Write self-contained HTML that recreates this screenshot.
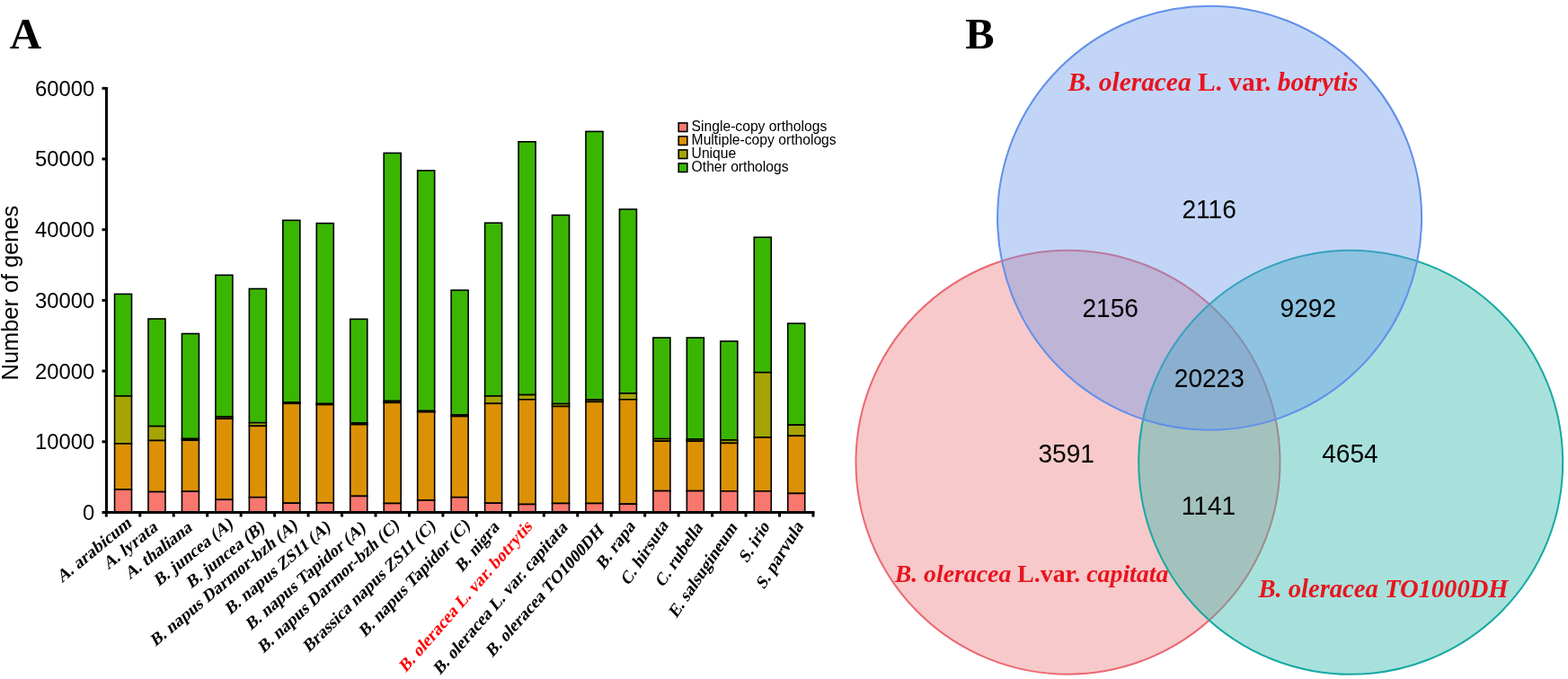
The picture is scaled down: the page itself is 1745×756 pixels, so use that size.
<!DOCTYPE html>
<html><head><meta charset="utf-8"><title>Figure</title>
<style>
html,body{margin:0;padding:0;background:#fff;}
body{width:1745px;height:756px;overflow:hidden;}
svg{display:block;}
</style></head>
<body>
<svg width="1745" height="756" viewBox="0 0 1745 756">
<rect width="1745" height="756" fill="#ffffff"/>
<text x="10.8" y="54.4" font-family="Liberation Serif, Times New Roman, serif" font-weight="bold" font-size="49" fill="#000">A</text>
<text x="1074.3" y="53.5" font-family="Liberation Serif, Times New Roman, serif" font-weight="bold" font-size="48.4" fill="#000">B</text>
<text transform="translate(20.4,326.1) rotate(-90) scale(0.98,1)" text-anchor="middle" font-family="Liberation Sans, Arial, sans-serif" font-size="25.9" fill="#000">Number of genes</text>
<text transform="translate(105.3,578.95) scale(0.985,1)" text-anchor="end" font-family="Liberation Sans, Arial, sans-serif" font-size="24.2" fill="#000">0</text>
<text transform="translate(105.3,500.25) scale(0.985,1)" text-anchor="end" font-family="Liberation Sans, Arial, sans-serif" font-size="24.2" fill="#000">10000</text>
<text transform="translate(105.3,421.55) scale(0.985,1)" text-anchor="end" font-family="Liberation Sans, Arial, sans-serif" font-size="24.2" fill="#000">20000</text>
<text transform="translate(105.3,342.85) scale(0.985,1)" text-anchor="end" font-family="Liberation Sans, Arial, sans-serif" font-size="24.2" fill="#000">30000</text>
<text transform="translate(105.3,264.15) scale(0.985,1)" text-anchor="end" font-family="Liberation Sans, Arial, sans-serif" font-size="24.2" fill="#000">40000</text>
<text transform="translate(105.3,185.45) scale(0.985,1)" text-anchor="end" font-family="Liberation Sans, Arial, sans-serif" font-size="24.2" fill="#000">50000</text>
<text transform="translate(105.3,106.75) scale(0.985,1)" text-anchor="end" font-family="Liberation Sans, Arial, sans-serif" font-size="24.2" fill="#000">60000</text>
<g stroke="#000" stroke-width="1.6">
<rect x="127.53" y="327.40" width="19.00" height="113.50" fill="#3ab601"/>
<rect x="127.53" y="440.90" width="19.00" height="53.10" fill="#a6a405"/>
<rect x="127.53" y="494.00" width="19.00" height="51.00" fill="#dc9104"/>
<rect x="127.53" y="545.00" width="19.00" height="25.50" fill="#f8776e"/>
<rect x="164.99" y="355.00" width="19.00" height="119.60" fill="#3ab601"/>
<rect x="164.99" y="474.60" width="19.00" height="15.90" fill="#a6a405"/>
<rect x="164.99" y="490.50" width="19.00" height="57.10" fill="#dc9104"/>
<rect x="164.99" y="547.60" width="19.00" height="22.90" fill="#f8776e"/>
<rect x="202.45" y="371.50" width="19.00" height="117.00" fill="#3ab601"/>
<rect x="202.45" y="488.50" width="19.00" height="1.70" fill="#a6a405"/>
<rect x="202.45" y="490.20" width="19.00" height="57.00" fill="#dc9104"/>
<rect x="202.45" y="547.20" width="19.00" height="23.30" fill="#f8776e"/>
<rect x="239.91" y="306.30" width="19.00" height="157.70" fill="#3ab601"/>
<rect x="239.91" y="464.00" width="19.00" height="2.20" fill="#a6a405"/>
<rect x="239.91" y="466.20" width="19.00" height="90.10" fill="#dc9104"/>
<rect x="239.91" y="556.30" width="19.00" height="14.20" fill="#f8776e"/>
<rect x="277.37" y="321.50" width="19.00" height="149.20" fill="#3ab601"/>
<rect x="277.37" y="470.70" width="19.00" height="3.60" fill="#a6a405"/>
<rect x="277.37" y="474.30" width="19.00" height="79.40" fill="#dc9104"/>
<rect x="277.37" y="553.70" width="19.00" height="16.80" fill="#f8776e"/>
<rect x="314.83" y="245.30" width="19.00" height="202.70" fill="#3ab601"/>
<rect x="314.83" y="448.00" width="19.00" height="1.30" fill="#a6a405"/>
<rect x="314.83" y="449.30" width="19.00" height="110.90" fill="#dc9104"/>
<rect x="314.83" y="560.20" width="19.00" height="10.30" fill="#f8776e"/>
<rect x="352.29" y="248.60" width="19.00" height="200.90" fill="#3ab601"/>
<rect x="352.29" y="449.50" width="19.00" height="1.10" fill="#a6a405"/>
<rect x="352.29" y="450.60" width="19.00" height="109.30" fill="#dc9104"/>
<rect x="352.29" y="559.90" width="19.00" height="10.60" fill="#f8776e"/>
<rect x="389.75" y="355.30" width="19.00" height="115.70" fill="#3ab601"/>
<rect x="389.75" y="471.00" width="19.00" height="1.70" fill="#a6a405"/>
<rect x="389.75" y="472.70" width="19.00" height="79.70" fill="#dc9104"/>
<rect x="389.75" y="552.40" width="19.00" height="18.10" fill="#f8776e"/>
<rect x="427.21" y="170.40" width="19.00" height="276.10" fill="#3ab601"/>
<rect x="427.21" y="446.50" width="19.00" height="1.90" fill="#a6a405"/>
<rect x="427.21" y="448.40" width="19.00" height="112.10" fill="#dc9104"/>
<rect x="427.21" y="560.50" width="19.00" height="10.00" fill="#f8776e"/>
<rect x="464.67" y="189.90" width="19.00" height="267.60" fill="#3ab601"/>
<rect x="464.67" y="457.50" width="19.00" height="1.20" fill="#a6a405"/>
<rect x="464.67" y="458.70" width="19.00" height="98.30" fill="#dc9104"/>
<rect x="464.67" y="557.00" width="19.00" height="13.50" fill="#f8776e"/>
<rect x="502.13" y="323.10" width="19.00" height="138.90" fill="#3ab601"/>
<rect x="502.13" y="462.00" width="19.00" height="1.60" fill="#a6a405"/>
<rect x="502.13" y="463.60" width="19.00" height="90.10" fill="#dc9104"/>
<rect x="502.13" y="553.70" width="19.00" height="16.80" fill="#f8776e"/>
<rect x="539.59" y="248.20" width="19.00" height="192.70" fill="#3ab601"/>
<rect x="539.59" y="440.90" width="19.00" height="8.40" fill="#a6a405"/>
<rect x="539.59" y="449.30" width="19.00" height="110.90" fill="#dc9104"/>
<rect x="539.59" y="560.20" width="19.00" height="10.30" fill="#f8776e"/>
<rect x="577.05" y="157.80" width="19.00" height="281.80" fill="#3ab601"/>
<rect x="577.05" y="439.60" width="19.00" height="5.20" fill="#a6a405"/>
<rect x="577.05" y="444.80" width="19.00" height="116.70" fill="#dc9104"/>
<rect x="577.05" y="561.50" width="19.00" height="9.00" fill="#f8776e"/>
<rect x="614.51" y="239.50" width="19.00" height="210.10" fill="#3ab601"/>
<rect x="614.51" y="449.60" width="19.00" height="2.90" fill="#a6a405"/>
<rect x="614.51" y="452.50" width="19.00" height="108.00" fill="#dc9104"/>
<rect x="614.51" y="560.50" width="19.00" height="10.00" fill="#f8776e"/>
<rect x="651.97" y="146.40" width="19.00" height="298.70" fill="#3ab601"/>
<rect x="651.97" y="445.10" width="19.00" height="2.30" fill="#a6a405"/>
<rect x="651.97" y="447.40" width="19.00" height="113.10" fill="#dc9104"/>
<rect x="651.97" y="560.50" width="19.00" height="10.00" fill="#f8776e"/>
<rect x="689.43" y="233.00" width="19.00" height="205.00" fill="#3ab601"/>
<rect x="689.43" y="438.00" width="19.00" height="6.80" fill="#a6a405"/>
<rect x="689.43" y="444.80" width="19.00" height="116.40" fill="#dc9104"/>
<rect x="689.43" y="561.20" width="19.00" height="9.30" fill="#f8776e"/>
<rect x="726.89" y="376.00" width="19.00" height="112.60" fill="#3ab601"/>
<rect x="726.89" y="488.60" width="19.00" height="2.60" fill="#a6a405"/>
<rect x="726.89" y="491.20" width="19.00" height="55.40" fill="#dc9104"/>
<rect x="726.89" y="546.60" width="19.00" height="23.90" fill="#f8776e"/>
<rect x="764.35" y="376.00" width="19.00" height="113.00" fill="#3ab601"/>
<rect x="764.35" y="489.00" width="19.00" height="2.20" fill="#a6a405"/>
<rect x="764.35" y="491.20" width="19.00" height="55.40" fill="#dc9104"/>
<rect x="764.35" y="546.60" width="19.00" height="23.90" fill="#f8776e"/>
<rect x="801.81" y="379.90" width="19.00" height="110.10" fill="#3ab601"/>
<rect x="801.81" y="490.00" width="19.00" height="3.40" fill="#a6a405"/>
<rect x="801.81" y="493.40" width="19.00" height="53.40" fill="#dc9104"/>
<rect x="801.81" y="546.80" width="19.00" height="23.70" fill="#f8776e"/>
<rect x="839.27" y="264.20" width="19.00" height="150.50" fill="#3ab601"/>
<rect x="839.27" y="414.70" width="19.00" height="72.30" fill="#a6a405"/>
<rect x="839.27" y="487.00" width="19.00" height="59.80" fill="#dc9104"/>
<rect x="839.27" y="546.80" width="19.00" height="23.70" fill="#f8776e"/>
<rect x="876.73" y="360.10" width="19.00" height="113.10" fill="#3ab601"/>
<rect x="876.73" y="473.20" width="19.00" height="12.10" fill="#a6a405"/>
<rect x="876.73" y="485.30" width="19.00" height="64.10" fill="#dc9104"/>
<rect x="876.73" y="549.40" width="19.00" height="21.10" fill="#f8776e"/>
</g>
<g stroke="#000" stroke-width="3" fill="none">
<line x1="118.5" y1="97" x2="118.5" y2="572"/>
<line x1="117" y1="570.5" x2="906.5" y2="570.5"/>
<line x1="113.5" y1="570.5" x2="118.5" y2="570.5"/>
<line x1="113.5" y1="491.8" x2="118.5" y2="491.8"/>
<line x1="113.5" y1="413.1" x2="118.5" y2="413.1"/>
<line x1="113.5" y1="334.4" x2="118.5" y2="334.4"/>
<line x1="113.5" y1="255.7" x2="118.5" y2="255.7"/>
<line x1="113.5" y1="177.0" x2="118.5" y2="177.0"/>
<line x1="113.5" y1="98.3" x2="118.5" y2="98.3"/>
<line x1="118.30" y1="570.5" x2="118.30" y2="575.5"/>
<line x1="155.76" y1="570.5" x2="155.76" y2="575.5"/>
<line x1="193.22" y1="570.5" x2="193.22" y2="575.5"/>
<line x1="230.68" y1="570.5" x2="230.68" y2="575.5"/>
<line x1="268.14" y1="570.5" x2="268.14" y2="575.5"/>
<line x1="305.60" y1="570.5" x2="305.60" y2="575.5"/>
<line x1="343.06" y1="570.5" x2="343.06" y2="575.5"/>
<line x1="380.52" y1="570.5" x2="380.52" y2="575.5"/>
<line x1="417.98" y1="570.5" x2="417.98" y2="575.5"/>
<line x1="455.44" y1="570.5" x2="455.44" y2="575.5"/>
<line x1="492.90" y1="570.5" x2="492.90" y2="575.5"/>
<line x1="530.36" y1="570.5" x2="530.36" y2="575.5"/>
<line x1="567.82" y1="570.5" x2="567.82" y2="575.5"/>
<line x1="605.28" y1="570.5" x2="605.28" y2="575.5"/>
<line x1="642.74" y1="570.5" x2="642.74" y2="575.5"/>
<line x1="680.20" y1="570.5" x2="680.20" y2="575.5"/>
<line x1="717.66" y1="570.5" x2="717.66" y2="575.5"/>
<line x1="755.12" y1="570.5" x2="755.12" y2="575.5"/>
<line x1="792.58" y1="570.5" x2="792.58" y2="575.5"/>
<line x1="830.04" y1="570.5" x2="830.04" y2="575.5"/>
<line x1="867.50" y1="570.5" x2="867.50" y2="575.5"/>
<line x1="904.96" y1="570.5" x2="904.96" y2="575.5"/>
</g>
<text transform="translate(147.13,584.83) rotate(-39.55) skewX(-12)" text-anchor="end" font-family="Liberation Serif, Times New Roman, serif" font-weight="bold" font-size="19" fill="#000">A. arabicum</text>
<text transform="translate(176.40,589.60) rotate(-38.88) skewX(-12)" text-anchor="end" font-family="Liberation Serif, Times New Roman, serif" font-weight="bold" font-size="19" fill="#000">A. lyrata</text>
<text transform="translate(214.73,589.92) rotate(-38.36) skewX(-12)" text-anchor="end" font-family="Liberation Serif, Times New Roman, serif" font-weight="bold" font-size="19" fill="#000">A. thaliana</text>
<text transform="translate(260.15,586.02) rotate(-38.81) skewX(-12)" text-anchor="end" font-family="Liberation Serif, Times New Roman, serif" font-weight="bold" font-size="19" fill="#000">B. juncea (A)</text>
<text transform="translate(295.52,589.51) rotate(-38.74) skewX(-12)" text-anchor="end" font-family="Liberation Serif, Times New Roman, serif" font-weight="bold" font-size="19" fill="#000">B. juncea (B)</text>
<text transform="translate(331.93,587.36) rotate(-39.89) skewX(-12)" text-anchor="end" font-family="Liberation Serif, Times New Roman, serif" font-weight="bold" font-size="19" fill="#000">B. napus Darmor-bzh (A)</text>
<text transform="translate(368.69,589.07) rotate(-40.44) skewX(-12)" text-anchor="end" font-family="Liberation Serif, Times New Roman, serif" font-weight="bold" font-size="19" fill="#000">B. napus ZS11 (A)</text>
<text transform="translate(407.67,589.83) rotate(-41.2) skewX(-12)" text-anchor="end" font-family="Liberation Serif, Times New Roman, serif" font-weight="bold" font-size="19" fill="#000">B. napus Tapidor (A)</text>
<text transform="translate(445.15,586.88) rotate(-42.81) skewX(-12)" text-anchor="end" font-family="Liberation Serif, Times New Roman, serif" font-weight="bold" font-size="19" fill="#000">B. napus Darmor-bzh (C)</text>
<text transform="translate(485.45,587.42) rotate(-44.6) skewX(-12)" text-anchor="end" font-family="Liberation Serif, Times New Roman, serif" font-weight="bold" font-size="19" fill="#000">Brassica napus ZS11 (C)</text>
<text transform="translate(523.84,586.37) rotate(-46.42) skewX(-12)" text-anchor="end" font-family="Liberation Serif, Times New Roman, serif" font-weight="bold" font-size="19" fill="#000">B. napus Tapidor (C)</text>
<text transform="translate(556.33,587.75) rotate(-49.85) skewX(-12)" text-anchor="end" font-family="Liberation Serif, Times New Roman, serif" font-weight="bold" font-size="19" fill="#000">B. nigra</text>
<text transform="translate(593.10,587.23) rotate(-48.85) skewX(-12)" text-anchor="end" font-family="Liberation Serif, Times New Roman, serif" font-weight="bold" font-size="19" fill="#ff0000">B. oleracea L. var. botrytis</text>
<text transform="translate(632.38,588.38) rotate(-48.92) skewX(-12)" text-anchor="end" font-family="Liberation Serif, Times New Roman, serif" font-weight="bold" font-size="19" fill="#000">B. oleracea L. var. capitata</text>
<text transform="translate(672.51,592.05) rotate(-48.46) skewX(-12)" text-anchor="end" font-family="Liberation Serif, Times New Roman, serif" font-weight="bold" font-size="19" fill="#000">B. oleracea TO1000DH</text>
<text transform="translate(707.62,586.61) rotate(-53.42) skewX(-12)" text-anchor="end" font-family="Liberation Serif, Times New Roman, serif" font-weight="bold" font-size="19" fill="#000">B. rapa</text>
<text transform="translate(744.33,585.41) rotate(-56.23) skewX(-12)" text-anchor="end" font-family="Liberation Serif, Times New Roman, serif" font-weight="bold" font-size="19" fill="#000">C. hirsuta</text>
<text transform="translate(782.77,587.50) rotate(-56.17) skewX(-12)" text-anchor="end" font-family="Liberation Serif, Times New Roman, serif" font-weight="bold" font-size="19" fill="#000">C. rubella</text>
<text transform="translate(821.07,587.53) rotate(-56.04) skewX(-12)" text-anchor="end" font-family="Liberation Serif, Times New Roman, serif" font-weight="bold" font-size="19" fill="#000">E. salsugineum</text>
<text transform="translate(856.97,586.49) rotate(-58.17) skewX(-12)" text-anchor="end" font-family="Liberation Serif, Times New Roman, serif" font-weight="bold" font-size="19" fill="#000">S. irio</text>
<text transform="translate(894.58,586.29) rotate(-57.94) skewX(-12)" text-anchor="end" font-family="Liberation Serif, Times New Roman, serif" font-weight="bold" font-size="19" fill="#000">S. parvula</text>
<rect x="755.2" y="136.9" width="9.6" height="9.6" fill="#f8776e" stroke="#000" stroke-width="1.6"/>
<text transform="translate(769.6,146.45) scale(0.995,1)" font-family="Liberation Sans, Arial, sans-serif" font-size="15.75" fill="#000">Single-copy orthologs</text>
<rect x="755.2" y="151.9" width="9.6" height="9.6" fill="#dc9104" stroke="#000" stroke-width="1.6"/>
<text transform="translate(769.6,161.45) scale(0.995,1)" font-family="Liberation Sans, Arial, sans-serif" font-size="15.75" fill="#000">Multiple-copy orthologs</text>
<rect x="755.2" y="166.9" width="9.6" height="9.6" fill="#a6a405" stroke="#000" stroke-width="1.6"/>
<text transform="translate(769.6,176.45) scale(0.995,1)" font-family="Liberation Sans, Arial, sans-serif" font-size="15.75" fill="#000">Unique</text>
<rect x="755.2" y="181.9" width="9.6" height="9.6" fill="#3ab601" stroke="#000" stroke-width="1.6"/>
<text transform="translate(769.6,191.45) scale(0.995,1)" font-family="Liberation Sans, Arial, sans-serif" font-size="15.75" fill="#000">Other orthologs</text>
<circle cx="1188.5" cy="514.7" r="236.0" fill="#eb787a" fill-opacity="0.4" stroke="#ec6870" stroke-width="2.0"/>
<circle cx="1503.2" cy="514.8" r="236.0" fill="#35b9ae" fill-opacity="0.43" stroke="#17a9a3" stroke-width="2.0"/>
<circle cx="1346.1" cy="242.7" r="236.0" fill="#6696e8" fill-opacity="0.4" stroke="#6190ea" stroke-width="2.0"/>
<text transform="translate(1345.65,242.5) scale(0.93,1)" text-anchor="middle" font-family="Liberation Sans, Arial, sans-serif" font-size="30.2" fill="#000">2116</text>
<text transform="translate(1235.65,352.5) scale(0.93,1)" text-anchor="middle" font-family="Liberation Sans, Arial, sans-serif" font-size="30.2" fill="#000">2156</text>
<text transform="translate(1455.8,352.5) scale(0.93,1)" text-anchor="middle" font-family="Liberation Sans, Arial, sans-serif" font-size="30.2" fill="#000">9292</text>
<text transform="translate(1345.8,431.3) scale(0.93,1)" text-anchor="middle" font-family="Liberation Sans, Arial, sans-serif" font-size="30.2" fill="#000">20223</text>
<text transform="translate(1186.65,514.6) scale(0.93,1)" text-anchor="middle" font-family="Liberation Sans, Arial, sans-serif" font-size="30.2" fill="#000">3591</text>
<text transform="translate(1502.4,514.6) scale(0.93,1)" text-anchor="middle" font-family="Liberation Sans, Arial, sans-serif" font-size="30.2" fill="#000">4654</text>
<text transform="translate(1345.0,572.8) scale(0.93,1)" text-anchor="middle" font-family="Liberation Sans, Arial, sans-serif" font-size="30.2" fill="#000">1141</text>
<text x="1350" y="101.3" text-anchor="middle" font-family="Liberation Serif, Times New Roman, serif" font-weight="bold" fill="#e8141e" font-size="29.4" xml:space="preserve"><tspan font-style="italic">B. oleracea</tspan> L. var. <tspan font-style="italic">botrytis</tspan></text>
<text x="1148" y="648" text-anchor="middle" font-family="Liberation Serif, Times New Roman, serif" font-weight="bold" fill="#e8141e" font-size="27.8" xml:space="preserve"><tspan font-style="italic">B. oleracea</tspan> L.var. <tspan font-style="italic">capitata</tspan></text>
<text x="1539.5" y="665" text-anchor="middle" font-family="Liberation Serif, Times New Roman, serif" font-weight="bold" fill="#e8141e" font-size="28.6" font-style="italic">B. oleracea TO1000DH</text>
</svg>
</body></html>
